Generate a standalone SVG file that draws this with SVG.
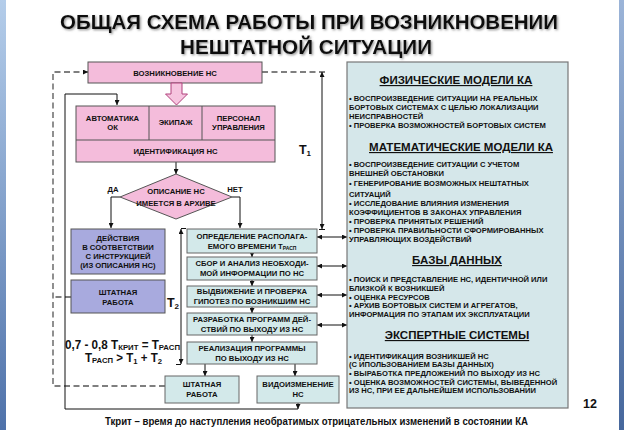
<svg xmlns="http://www.w3.org/2000/svg" width="624" height="430" viewBox="0 0 624 430">
<defs>
<linearGradient id="barL" x1="0" y1="0" x2="0" y2="1"><stop offset="0" stop-color="#b4cdea"/><stop offset="1" stop-color="#4f72aa"/></linearGradient>
<linearGradient id="barR" x1="0" y1="0" x2="0" y2="1"><stop offset="0" stop-color="#9bb4d8"/><stop offset="1" stop-color="#46679c"/></linearGradient>
<filter id="sh" x="-5%" y="-20%" width="110%" height="150%"><feDropShadow dx="1.2" dy="1.2" stdDeviation="0.8" flood-color="#777" flood-opacity="0.8"/></filter>
<marker id="ah" viewBox="0 0 8 8" refX="8" refY="4" markerWidth="5" markerHeight="5" orient="auto-start-reverse" markerUnits="userSpaceOnUse"><path d="M0,0 L8,4 L0,8 z" fill="#111"/></marker>
</defs>
<style>
.t{font-family:"Liberation Sans",Arial,sans-serif;font-weight:bold;fill:#111}
.bx{font-size:7.7px;text-anchor:middle}
.pk{fill:#f4bcdb;stroke:#555;stroke-width:1}
.pu{fill:#a8aade;stroke:#555;stroke-width:1}
.tl{fill:#d3e9ea;stroke:#666;stroke-width:1}
.ln{fill:none;stroke:#111;stroke-width:1}
.ds{fill:none;stroke:#555;stroke-width:1.3;stroke-dasharray:6 3.5}
.pt{font-size:7.6px}
.hd{font-size:11.5px;text-anchor:middle;text-decoration:underline}
</style>
<rect x="0" y="0" width="624" height="430" fill="#fff"/>
<rect x="0" y="0" width="6" height="430" fill="url(#barL)"/>
<rect x="619" y="0" width="5" height="430" fill="url(#barR)"/>

<g id="title" filter="url(#sh)">
<text class="t" x="309" y="29" font-size="21" text-anchor="middle" textLength="498" lengthAdjust="spacingAndGlyphs">ОБЩАЯ СХЕМА РАБОТЫ ПРИ ВОЗНИКНОВЕНИИ</text>
<text class="t" x="306" y="53.5" font-size="21" text-anchor="middle" textLength="252" lengthAdjust="spacingAndGlyphs">НЕШТАТНОЙ СИТУАЦИИ</text>
</g>

<g id="connectors">
<polyline class="ds" points="165,386 53,386 53,72 84,72"/>
<line class="ds" x1="86" y1="72" x2="88" y2="72" marker-end="url(#ah)"/>
<polyline class="ds" points="71,297 53,297"/>
<polyline class="ds" points="262,72 327,72"/>
<polyline class="ln" points="298,409 65,409 65,94 117,94 117,105" marker-end="url(#ah)"/>
<line class="ln" x1="298" y1="403" x2="298" y2="409" marker-end="url(#ah)"/>
<line class="ln" x1="176" y1="162" x2="176" y2="174" marker-end="url(#ah)"/>
<polyline class="ln" points="120,197 111,197 111,228" marker-end="url(#ah)"/>
<polyline class="ln" points="232,197 240,197 240,228" marker-end="url(#ah)"/>
<line class="ln" x1="252" y1="253" x2="252" y2="257" marker-end="url(#ah)"/>
<line class="ln" x1="252" y1="280" x2="252" y2="286" marker-end="url(#ah)"/>
<line class="ln" x1="252" y1="307" x2="252" y2="313" marker-end="url(#ah)"/>
<line class="ln" x1="252" y1="335" x2="252" y2="342" marker-end="url(#ah)"/>
<line class="ln" x1="205" y1="364" x2="205" y2="376" marker-end="url(#ah)"/>
<line class="ln" x1="295" y1="364" x2="295" y2="376" marker-end="url(#ah)"/>
<line class="ln" x1="317" y1="237" x2="347" y2="237" marker-start="url(#ah)" marker-end="url(#ah)"/>
<line class="ln" x1="317" y1="266" x2="347" y2="266" marker-start="url(#ah)" marker-end="url(#ah)"/>
<line class="ln" x1="317" y1="295" x2="347" y2="295" marker-start="url(#ah)" marker-end="url(#ah)"/>
<line class="ln" x1="317" y1="325" x2="347" y2="325" marker-start="url(#ah)" marker-end="url(#ah)"/>
<line class="ln" x1="322" y1="72" x2="322" y2="229" marker-start="url(#ah)" marker-end="url(#ah)"/>
<line class="ln" x1="319" y1="229.5" x2="325" y2="229.5"/>
<line class="ln" x1="181" y1="229" x2="181" y2="364" marker-start="url(#ah)" marker-end="url(#ah)"/>
<line class="ln" x1="181" y1="228.5" x2="186" y2="228.5"/>
<line class="ln" x1="176" y1="364.5" x2="181" y2="364.5"/>
</g>

<g id="n-vozn">
<rect class="pk" x="88" y="62" width="174" height="21"/>
<text class="t bx" x="175" y="75.5">ВОЗНИКНОВЕНИЕ НС</text>
</g>
<g id="n-hollow-arrow">
<polygon points="171,83 182,83 182,94 187.5,94 176.5,105 165.5,94 171,94" fill="#f6c4df" stroke="#b0407c" stroke-width="1"/>
</g>
<g id="n-ident">
<rect class="pk" x="76" y="106" width="199" height="56"/>
<line x1="76" y1="140" x2="275" y2="140" stroke="#555"/>
<line x1="149" y1="106" x2="149" y2="140" stroke="#555"/>
<line x1="202" y1="106" x2="202" y2="140" stroke="#555"/>
<text class="t bx" x="112.5" y="120.5">АВТОМАТИКА</text>
<text class="t bx" x="112.5" y="129.5">ОК</text>
<text class="t bx" x="175.5" y="125">ЭКИПАЖ</text>
<text class="t bx" x="238.5" y="120.5">ПЕРСОНАЛ</text>
<text class="t bx" x="238.5" y="129.5">УПРАВЛЕНИЯ</text>
<text class="t bx" x="175.5" y="153.5">ИДЕНТИФИКАЦИЯ НС</text>
</g>
<g id="n-diamond">
<polygon class="pk" points="176,174 232,197 176,219 120,197"/>
<text class="t bx" x="176" y="194">ОПИСАНИЕ НС</text>
<text class="t bx" x="176" y="205.5">ИМЕЕТСЯ В АРХИВЕ</text>
<text class="t bx" x="113" y="192">ДА</text>
<text class="t bx" x="235" y="192">НЕТ</text>
</g>
<g id="n-deistviya">
<rect class="pu" x="71" y="229" width="94" height="45"/>
<text class="t bx" x="118" y="240.5">ДЕЙСТВИЯ</text>
<text class="t bx" x="118" y="249.5">В СООТВЕТСТВИИ</text>
<text class="t bx" x="118" y="258.5">С ИНСТРУКЦИЕЙ</text>
<text class="t bx" x="118" y="267.5">(ИЗ ОПИСАНИЯ НС)</text>
</g>
<g id="n-shtat1">
<rect class="pu" x="71" y="280" width="94" height="33"/>
<text class="t bx" x="118" y="294.5">ШТАТНАЯ</text>
<text class="t bx" x="118" y="304.5">РАБОТА</text>
</g>
<g id="n-opred">
<rect class="tl" x="187" y="229" width="130" height="24"/>
<text class="t bx" x="252" y="238.5">ОПРЕДЕЛЕНИЕ РАСПОЛАГА-</text>
<text class="t bx" x="252" y="248.5">ЕМОГО ВРЕМЕНИ T<tspan font-size="5" dy="1">РАСП</tspan></text>
</g>
<g id="n-sbor">
<rect class="tl" x="187" y="257" width="130" height="23"/>
<text class="t bx" x="252" y="266">СБОР И АНАЛИЗ НЕОБХОДИ-</text>
<text class="t bx" x="252" y="276">МОЙ ИНФОРМАЦИИ ПО НС</text>
</g>
<g id="n-vydv">
<rect class="tl" x="187" y="286" width="130" height="21"/>
<text class="t bx" x="252" y="294">ВЫДВИЖЕНИЕ И ПРОВЕРКА</text>
<text class="t bx" x="252" y="304">ГИПОТЕЗ ПО ВОЗНИКШИМ НС</text>
</g>
<g id="n-razrab">
<rect class="tl" x="187" y="313" width="130" height="22"/>
<text class="t bx" x="252" y="321.5">РАЗРАБОТКА ПРОГРАММ ДЕЙ-</text>
<text class="t bx" x="252" y="331.5">СТВИЙ ПО ВЫХОДУ ИЗ НС</text>
</g>
<g id="n-realiz">
<rect class="tl" x="187" y="342" width="130" height="22"/>
<text class="t bx" x="252" y="350.5">РЕАЛИЗАЦИЯ ПРОГРАММЫ</text>
<text class="t bx" x="252" y="360.5">ПО ВЫХОДУ ИЗ НС</text>
</g>
<g id="n-shtat2">
<rect class="tl" x="165" y="376" width="74" height="27"/>
<text class="t bx" x="202" y="387">ШТАТНАЯ</text>
<text class="t bx" x="202" y="397">РАБОТА</text>
</g>
<g id="n-vidoizm">
<rect class="tl" x="257" y="376" width="82" height="27"/>
<text class="t bx" x="298" y="387">ВИДОИЗМЕНЕНИЕ</text>
<text class="t bx" x="298" y="397">НС</text>
</g>

<g id="labels">
<text class="t" x="305" y="154" font-size="12.5" text-anchor="middle">T<tspan font-size="8" dy="2">1</tspan></text>
<text class="t" x="173" y="307" font-size="12.5" text-anchor="middle">T<tspan font-size="8" dy="2">2</tspan></text>
<text class="t" x="65" y="349" font-size="12" textLength="115" lengthAdjust="spacingAndGlyphs">0,7 - 0,8 T<tspan font-size="8" dy="1">КРИТ</tspan><tspan dy="-1"> = T</tspan><tspan font-size="8" dy="1">РАСП</tspan></text>
<text class="t" x="85" y="362" font-size="12" textLength="77" lengthAdjust="spacingAndGlyphs">T<tspan font-size="8" dy="1">РАСП</tspan><tspan dy="-1"> &gt; T</tspan><tspan font-size="8" dy="2">1</tspan><tspan dy="-2"> + T</tspan><tspan font-size="8" dy="2">2</tspan></text>
</g>

<g id="n-panel">
<rect x="347" y="62" width="221" height="346" fill="#d5e7ea" stroke="#777" stroke-width="1.2"/>
<text class="t hd" x="456" y="84">ФИЗИЧЕСКИЕ МОДЕЛИ КА</text>
<text class="t pt" x="349" y="100.5">• ВОСПРОИЗВЕДЕНИЕ СИТУАЦИИ НА РЕАЛЬНЫХ</text>
<text class="t pt" x="349" y="109.5">БОРТОВЫХ СИСТЕМАХ С ЦЕЛЬЮ ЛОКАЛИЗАЦИИ</text>
<text class="t pt" x="349" y="118.5">НЕИСПРАВНОСТЕЙ</text>
<text class="t pt" x="349" y="127.5">• ПРОВЕРКА ВОЗМОЖНОСТЕЙ БОРТОВЫХ СИСТЕМ</text>
<text class="t hd" x="461" y="151">МАТЕМАТИЧЕСКИЕ МОДЕЛИ КА</text>
<text class="t pt" x="349" y="166.5">• ВОСПРОИЗВЕДЕНИЕ СИТУАЦИИ С УЧЕТОМ</text>
<text class="t pt" x="349" y="175.5">ВНЕШНЕЙ ОБСТАНОВКИ</text>
<text class="t pt" x="349" y="186">• ГЕНЕРИРОВАНИЕ ВОЗМОЖНЫХ НЕШТАТНЫХ</text>
<text class="t pt" x="349" y="196.5">СИТУАЦИЙ</text>
<text class="t pt" x="349" y="205.5">• ИССЛЕДОВАНИЕ ВЛИЯНИЯ ИЗМЕНЕНИЯ</text>
<text class="t pt" x="349" y="214.5">КОЭФФИЦИЕНТОВ В ЗАКОНАХ  УПРАВЛЕНИЯ</text>
<text class="t pt" x="349" y="223.5">• ПРОВЕРКА ПРИНЯТЫХ РЕШЕНИЙ</text>
<text class="t pt" x="349" y="232.5">• ПРОВЕРКА ПРАВИЛЬНОСТИ СФОРМИРОВАННЫХ</text>
<text class="t pt" x="349" y="241.5">УПРАВЛЯЮЩИХ  ВОЗДЕЙСТВИЙ</text>
<text class="t hd" x="457" y="264">БАЗЫ ДАННЫХ</text>
<text class="t pt" x="349" y="281.5">• ПОИСК И ПРЕДСТАВЛЕНИЕ НС, ИДЕНТИЧНОЙ ИЛИ</text>
<text class="t pt" x="349" y="290.5">БЛИЗКОЙ К  ВОЗНИКШЕЙ</text>
<text class="t pt" x="349" y="299.5">• ОЦЕНКА РЕСУРСОВ</text>
<text class="t pt" x="349" y="308">• АРХИВ БОРТОВЫХ СИСТЕМ И АГРЕГАТОВ,</text>
<text class="t pt" x="349" y="316.5">ИНФОРМАЦИЯ ПО ЭТАПАМ ИХ  ЭКСПЛУАТАЦИИ</text>
<text class="t hd" x="457" y="339">ЭКСПЕРТНЫЕ СИСТЕМЫ</text>
<text class="t pt" x="349" y="358.5">• ИДЕНТИФИКАЦИЯ ВОЗНИКШЕЙ НС</text>
<text class="t pt" x="349" y="367">(С ИПОЛЬЗОВАНИЕМ БАЗЫ ДАННЫХ)</text>
<text class="t pt" x="349" y="375.5">• ВЫРАБОТКА ПРЕДЛОЖЕНИЙ ПО ВЫХОДУ ИЗ НС</text>
<text class="t pt" x="349" y="384.5">• ОЦЕНКА ВОЗМОЖНОСТЕЙ СИСТЕМЫ, ВЫВЕДЕННОЙ</text>
<text class="t pt" x="349" y="393">ИЗ НС, ПРИ ЕЕ ДАЛЬНЕЙШЕМ ИСПОЛЬЗОВАНИИ</text>
</g>

<text class="t" x="590" y="408" font-size="12.5" text-anchor="middle">12</text>
<text class="t" x="105" y="425" font-size="10.5" textLength="423" lengthAdjust="spacingAndGlyphs">Ткрит – время до наступления необратимых отрицательных изменений в состоянии КА</text>
</svg>
